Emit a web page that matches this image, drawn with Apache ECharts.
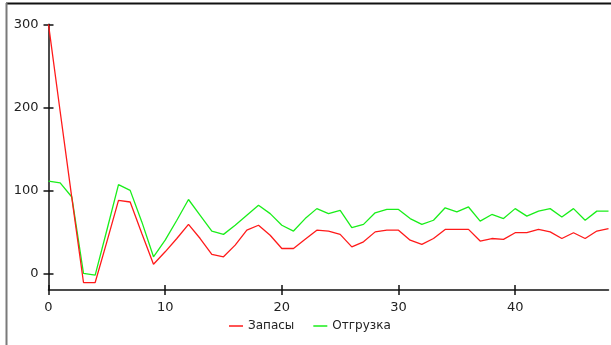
<!DOCTYPE html>
<html>
<head>
<meta charset="utf-8">
<script src="https://cdn.jsdelivr.net/npm/echarts@6/dist/echarts.min.js"></script>
<style>
html,body{margin:0;padding:0;background:#fff;}
#c{width:611px;height:345px;}
</style>
</head>
<body>
<div id="c"></div>
<script>
const periods = [0,1,2,3,4,5,6,7,8,9,10,11,12,13,14,15,16,17,18,19,20,21,22,23,24,25,26,27,28,29,30,31,32,33,34,35,36,37,38,39,40,41,42,43,44,45,46,47,48];
const zapasy = [300,195,91,-11,-11,38,88,86,48,11,26,42,59,42,23,20,34,52,58,46,30,30,41,52,51,47,32,38,50,52,52,40,35,42,53,53,53,39,42,41,49,49,53,50,42,49,42,51,54];
const otgruzka = [111,109,92,0,-2,52,107,100,62,20,40,64,89,70,51,47,58,70,82,72,58,51,66,78,72,76,55,59,73,77,77,66,59,64,79,74,80,63,71,66,78,69,75,78,68,78,64,75,75];
const seriesNames = ['Запасы','Отгрузка'];
const yTicks = [0,100,200,300];
const xTicks = [0,10,20,30,40];

const chart = echarts.init(document.getElementById('c'), null, {renderer:'canvas'});
const font = 'DejaVu Sans';
const pairs = (ys) => periods.map((x,i)=>[x, ys[i]]);
const axisCol = '#111';
chart.setOption({
  animation:false,
  backgroundColor:'#fff',
  textStyle:{fontFamily:font},
  grid:{left:48.5, right:2.5, top:24.3, bottom:55, containLabel:false},
  graphic:[
    {type:'line', shape:{x1:6, y1:3.5, x2:611, y2:3.5}, style:{stroke:'#111', lineWidth:2}, z:100},
    {type:'line', shape:{x1:6.5, y1:3, x2:6.5, y2:345}, style:{stroke:'#7a7a7a', lineWidth:2}, z:100}
  ],
  legend:{
    data:seriesNames, left:229, top:320, icon:'rect', itemWidth:14, itemHeight:1.5, itemGap:19,
    textStyle:{fontFamily:font, fontSize:12, color:'#222'},
    padding:0
  },
  xAxis:[
    {type:'value', min:0, max:48, position:'bottom',
     axisLine:{show:true, onZero:false, lineStyle:{color:axisCol, width:1.5}},
     axisTick:{show:true, inside:false, length:5, customValues:xTicks, lineStyle:{color:axisCol, width:1.5}},
     axisLabel:{show:true, margin:11, fontSize:13, color:'#222', fontFamily:font, customValues:xTicks},
     splitLine:{show:false}},
    {type:'value', min:0, max:48, position:'bottom',
     axisLine:{show:false, onZero:false},
     axisTick:{show:true, inside:true, length:5, customValues:xTicks, lineStyle:{color:axisCol, width:1.5}},
     axisLabel:{show:false},
     splitLine:{show:false}}
  ],
  yAxis:[
    {type:'value', min:-20, max:300, position:'left',
     axisLine:{show:true, onZero:false, lineStyle:{color:axisCol, width:1.5}},
     axisTick:{show:true, inside:false, length:5, customValues:yTicks, lineStyle:{color:axisCol, width:1.5}},
     axisLabel:{show:true, margin:10, fontSize:13, color:'#222', fontFamily:font, customValues:yTicks},
     splitLine:{show:false}},
    {type:'value', min:-20, max:300, position:'left',
     axisLine:{show:false, onZero:false},
     axisTick:{show:true, inside:true, length:5, customValues:yTicks, lineStyle:{color:axisCol, width:1.5}},
     axisLabel:{show:false},
     splitLine:{show:false}}
  ],
  series:[
    {name:seriesNames[0], type:'line', data:pairs(zapasy), symbol:'none', showSymbol:false,
     lineStyle:{color:'#ff1a1a', width:1.3}, itemStyle:{color:'#ff1a1a'}, z:3},
    {name:seriesNames[1], type:'line', data:pairs(otgruzka), symbol:'none', showSymbol:false,
     lineStyle:{color:'#1aee1a', width:1.3}, itemStyle:{color:'#1aee1a'}, z:2}
  ]
});
</script>
</body>
</html>
